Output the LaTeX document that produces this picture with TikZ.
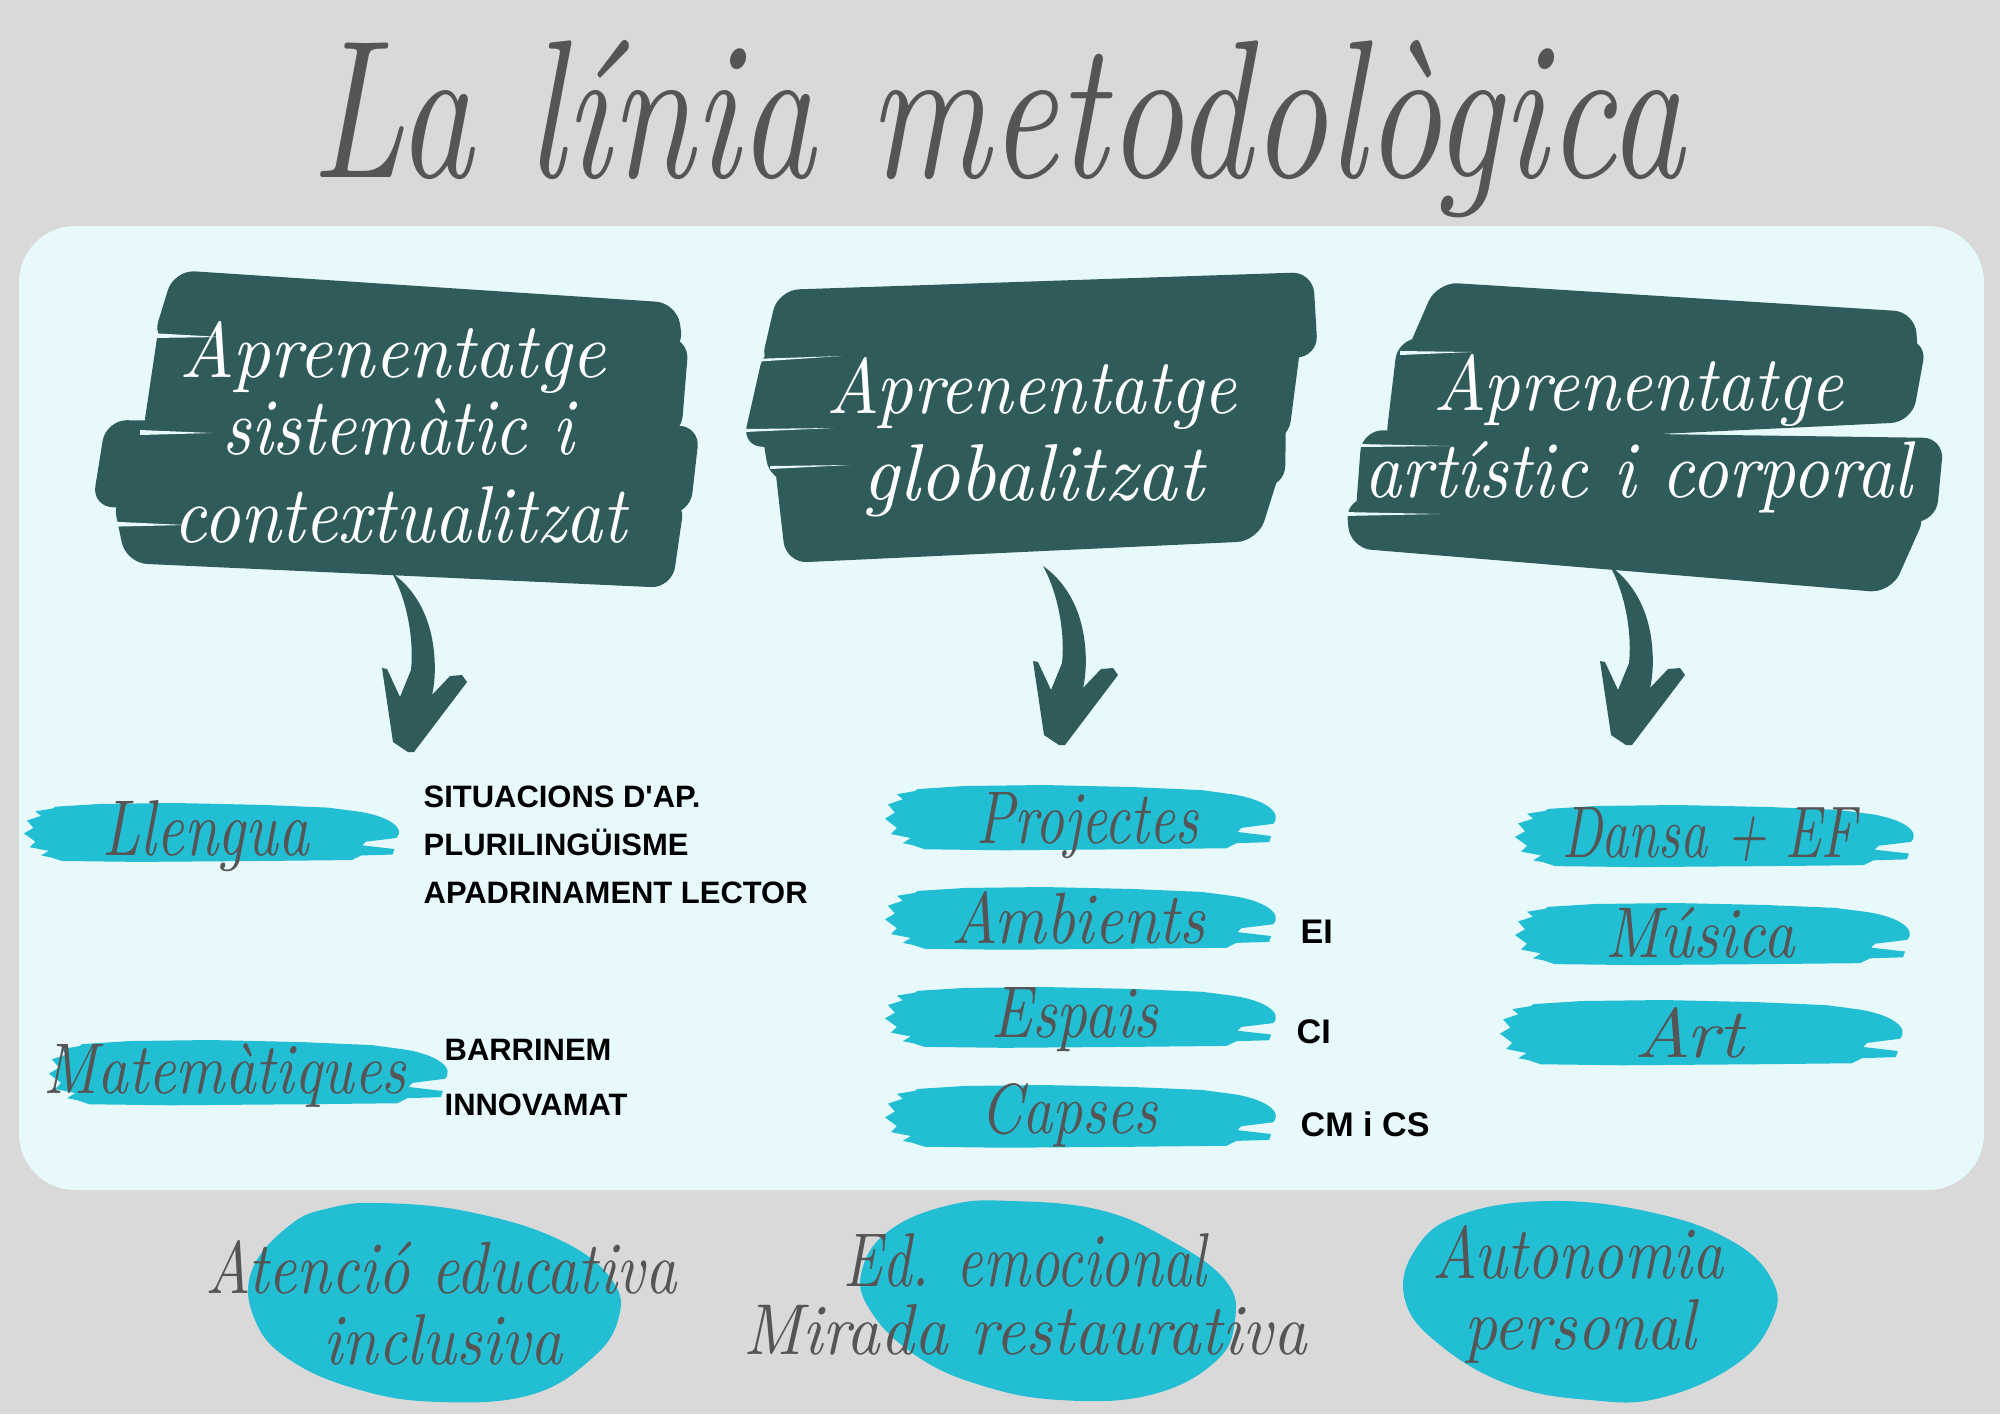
\documentclass[tikz,border=0pt]{standalone}
\usepackage{fontspec}
\setsansfont{Liberation Sans}
\definecolor{bgray}{HTML}{D9D9D9}
\definecolor{panel}{HTML}{E8F9FB}
\definecolor{hdteal}{HTML}{2F5B5B}
\definecolor{cyanb}{HTML}{22BED4}
\definecolor{ink}{HTML}{555555}
\newdimen\pxu \pxu=0.01cm
\newcommand\stx[3]{\resizebox{#1\pxu}{#2\pxu}{\itshape #3}}
\tikzset{
  hdr/.style={fill=hdteal, rounded corners=6pt},
  notch/.style={fill=panel},
  htxt/.style={anchor=base, inner sep=0pt, text=white},
  ltxt/.style={anchor=base, inner sep=0pt, text=ink},
  smalltag/.style={anchor=base west, inner sep=0pt, text=black, font=\sffamily\bfseries\fontsize{8.8pt}{10pt}\selectfont},
  bigtag/.style={anchor=base west, inner sep=0pt, text=black, font=\sffamily\bfseries\fontsize{9.7pt}{11pt}\selectfont},
  blob/.style={fill=cyanb},
  pics/cbrush/.style={code={
    \fill[cyanb] (33,4) -- (80,1) -- (160,0) -- (250,2) -- (320,5) -- (350,9)
      .. controls (385,14) and (402,28) .. (392,38) -- (360,42) -- (356,46)
      -- (390,50) -- (388,56) -- (355,57) -- (345,62) -- (250,63) -- (120,64)
      -- (40,63) -- (28,59) -- (18,57) -- (26,52) -- (6,48) -- (12,42) -- (0,33)
      -- (10,27) -- (3,19) -- (18,14) -- (12,9) -- (30,6) -- cycle;
  }},
  pics/darrow/.style={code={
    \fill[hdteal] (-20,-179) .. controls (0,-165) and (18,-140) .. (22,-100)
      .. controls (24,-80) and (22,-65) .. (20,-57) -- (38,-76) -- (50,-77)
      -- (55,-70) -- (2,0) -- (-4,0) -- (-19,-10) -- (-30,-84) -- (-25,-83)
      -- (-12,-55) -- (-1,-82) .. controls (2,-110) and (-4,-150) .. (-20,-179) -- cycle;
  }}
}
\begin{document}
\begin{tikzpicture}[x=0.01cm, y=-0.01cm]
% background
\fill[bgray] (0,0) rectangle (2000,1414);
\useasboundingbox (0,0) rectangle (2000,1414);
\fill[panel, rounded corners=16pt] (19,226) rectangle (1984,1190);

% title
\node[ltxt] (title) at (998,177) {\stx{1372}{137}{La línia metodològica}};

% left header strokes
\fill[hdr] (174,270) -- (677,303) -- (684,352) -- (152,342) -- cycle;
\fill[hdr] (160,318) -- (689,338) -- (681,437) -- (142,439) -- cycle;
\fill[hdr] (106,420) -- (700,426) -- (690,514) -- (92,507) -- cycle;
\fill[hdr] (112,495) -- (685,498) -- (672,588) -- (126,563) -- cycle;
\fill[notch] (150,333) -- (222,337) -- (150,338) -- cycle;
\fill[notch] (140,430) -- (212,433) -- (140,435) -- cycle;
\fill[notch] (98,521) -- (186,525) -- (98,527) -- cycle;

% middle header strokes
\fill[hdr] (778,290) -- (1313,272) -- (1318,357) -- (760,368) -- cycle;
\fill[hdr] (765,345) -- (1302,334) -- (1288,442) -- (742,447) -- cycle;
\fill[hdr] (760,420) -- (1286,414) -- (1285,487) -- (770,482) -- cycle;
\fill[hdr] (774,458) -- (1286,452) -- (1258,541) -- (786,563) -- cycle;
\fill[notch] (752,359) -- (842,356) -- (752,362) -- cycle;
\fill[notch] (744,429) -- (834,428) -- (744,432) -- cycle;
\fill[notch] (770,466) -- (850,465) -- (770,469) -- cycle;

% right header strokes
\fill[hdr] (1437,282) -- (1915,312) -- (1919,370) -- (1403,360) -- cycle;
\fill[hdr] (1398,338) -- (1927,340) -- (1912,422) -- (1385,447) -- cycle;
\fill[hdr] (1362,430) -- (1944,438) -- (1936,522) -- (1355,522) -- cycle;
\fill[hdr] (1346,498) -- (1928,510) -- (1891,593) -- (1350,548) -- cycle;
\fill[notch] (1400,351) -- (1472,352) -- (1400,355) -- cycle;
\fill[notch] (1358,444) -- (1450,446) -- (1358,447) -- cycle;
\fill[notch] (1343,512) -- (1440,514) -- (1343,516) -- cycle;

% header texts
\node[htxt] (h1a) at (393,377) {\stx{426}{56}{Aprenentatge}};
\node[htxt] (h1b) at (398,454) {\stx{351}{56}{sistemàtic i}};
\node[htxt] (h1c) at (400,542) {\stx{453}{56}{contextualitzat}};
\node[htxt] (h2a) at (1031,413) {\stx{410}{56}{Aprenentatge}};
\node[htxt] (h2b) at (1033,500) {\stx{341}{56}{globalitzat}};
\node[htxt] (h3a) at (1638,410) {\stx{410}{56}{Aprenentatge}};
\node[htxt] (h3b) at (1638,497) {\stx{547}{56}{artístic i corporal}};

% arrows
\coordinate (a1) at (412,752);
\coordinate (a2) at (1063,745);
\coordinate (a3) at (1630,745);
\pic at (a1) {darrow};
\pic at (a2) {darrow};
\pic at (a3) {darrow};

% cyan brushes
\pic[xscale=0.95, yscale=0.92] at (24,803) {cbrush};
\pic[xscale=1.01, yscale=1.02] at (49,1040) {cbrush};
\pic[xscale=0.99, yscale=1.02] at (885,785) {cbrush};
\pic[xscale=0.99, yscale=0.98] at (885,887) {cbrush};
\pic[xscale=0.99, yscale=0.95] at (885,987) {cbrush};
\pic[xscale=0.99, yscale=0.98] at (885,1085) {cbrush};
\pic[xscale=1.01, yscale=0.97] at (1515,805) {cbrush};
\pic[xscale=1.00, yscale=0.97] at (1515,903) {cbrush};
\pic[xscale=1.02, yscale=1.02] at (1500,1000) {cbrush};

% brush labels
\node[ltxt] (llengua) at (206,855) {\stx{206}{55}{Llengua}};
\node[ltxt] (mates) at (225,1093) {\stx{363}{50}{Matemàtiques}};
\node[ltxt] (proj) at (1087,843) {\stx{222}{51}{Projectes}};
\node[ltxt] (amb) at (1078,943) {\stx{254}{52}{Ambients}};
\node[ltxt] (esp) at (1075,1037) {\stx{167}{50}{Espais}};
\node[ltxt] (caps) at (1069,1133) {\stx{178}{50}{Capses}};
\node[ltxt] (dansa) at (1709,857) {\stx{294}{50}{Dansa + EF}};
\node[ltxt] (musica) at (1700,957) {\stx{189}{50}{Música}};
\node[ltxt] (art) at (1689,1057) {\stx{110}{50}{Art}};

% tags
\node[smalltag] (t1) at (423,807) {SITUACIONS D\textquotesingle AP.};
\node[smalltag] (t2) at (423,855) {PLURILINGÜISME};
\node[smalltag] (t3) at (423,903) {APADRINAMENT LECTOR};
\node[smalltag] (t4) at (444,1060) {BARRINEM};
\node[smalltag] (t5) at (444,1115) {INNOVAMAT};
\node[bigtag] (t6) at (1300,943) {EI};
\node[bigtag] (t7) at (1296,1043) {CI};
\node[bigtag] (t8) at (1300,1136) {CM i CS};

% bottom blobs
\fill[blob] plot[smooth cycle, tension=0.7] coordinates {(381,1203) (470,1212) (560,1240) (612,1280) (618,1320) (590,1360) (530,1395) (440,1402) (360,1390) (290,1360) (255,1320) (252,1270) (290,1225) (330,1208)};
\fill[blob] plot[smooth cycle, tension=0.7] coordinates {(1012,1201) (1100,1210) (1170,1240) (1225,1280) (1235,1320) (1215,1362) (1150,1395) (1060,1400) (980,1385) (915,1355) (870,1310) (862,1270) (890,1230) (950,1205)};
\fill[blob] plot[smooth cycle, tension=0.7] coordinates {(1549,1201) (1650,1212) (1730,1240) (1772,1280) (1772,1320) (1735,1365) (1660,1398) (1590,1400) (1510,1385) (1440,1345) (1405,1300) (1415,1250) (1460,1215)};

\node[ltxt] (b1a) at (441,1293) {\stx{471}{53}{Atenció educativa}};
\node[ltxt] (b1b) at (443,1364) {\stx{239}{50}{inclusiva}};
\node[ltxt] (b2a) at (1025,1286) {\stx{363}{53}{Ed. emocional}};
\node[ltxt] (b2b) at (1025,1354) {\stx{563}{50}{Mirada restaurativa}};
\node[ltxt] (b3a) at (1578,1278) {\stx{291}{53}{Autonomia}};
\node[ltxt] (b3b) at (1580,1349) {\stx{232}{50}{personal}};
\end{tikzpicture}
\end{document}
